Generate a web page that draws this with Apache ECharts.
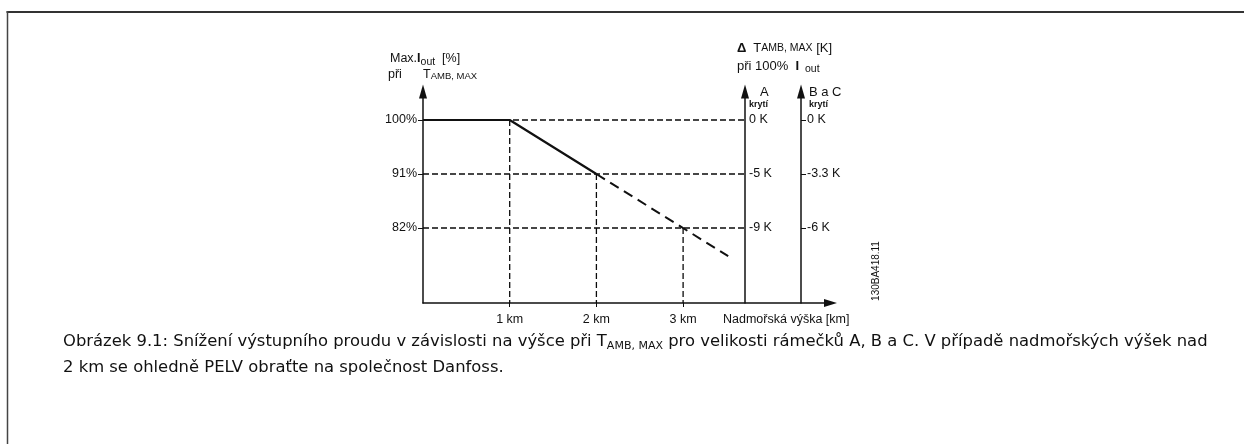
<!DOCTYPE html>
<html>
<head>
<meta charset="utf-8">
<script src="https://cdn.jsdelivr.net/npm/echarts@6/dist/echarts.min.js"></script>
<style>
  html, body { margin: 0; padding: 0; background: #fff; }
  #chart { width: 1244px; height: 444px; }
</style>
</head>
<body>
<div id="chart"></div>
<script>
// Altitude axis (km)
const altitudeTicks = [1, 2, 3];
const altitudeLabels = ['1 km', '2 km', '3 km'];

// Max. output current at T_AMB,MAX (%)
const currentTicks = [82, 91, 100];
const currentLabels = ['82%', '91%', '100%'];

// Ambient temperature derating at 100 % I_out, per enclosure
const deltaEnclosureA = ['-9 K', '-5 K', '0 K'];
const deltaEnclosureBC = ['-6 K', '-3.3 K', '0 K'];

// Derating curve: specified part and extrapolated part
const curveSpecified = [[0, 100], [1, 100], [2, 91]];
const curveExtrapolated = [[2, 91], [3.52, 77.3]];

// Points where the guide lines meet the curve
const guidePoints = [[1, 100], [2, 91], [3, 82]];

// ---- layout ----
const INK = '#111';
const GUIDE = '#0a0a0a';
const AXIS_FONT = "'Liberation Sans', Arial, sans-serif";
const CAPTION_FONT = "'DejaVu Sans', Verdana, sans-serif";
const X_MAX = 4.7, Y_MIN = 69.5, Y_MAX = 104.75;
const GRID = { left: 423, top: 91.5, width: 407.5, height: 211.5 };
const PX_PER_KM = GRID.width / X_MAX;
const ENCL_A_KM = 3.714;   // where the enclosure A scale stands
const ENCL_BC_KM = 4.36;   // where the enclosure B/C scale stands

const pick = (ticks, labels) => v => {
  const i = ticks.findIndex(t => Math.abs(t - v) < 1e-6);
  return i < 0 ? '' : labels[i];
};

const axisLineStyle = { color: INK, width: 1.5 };
const labelStyle = { fontFamily: AXIS_FONT, fontSize: 12.5, color: INK };

function yAxisDef(extra) {
  return Object.assign({
    type: 'value', min: Y_MIN, max: Y_MAX,
    splitLine: { show: false },
    axisLine: { show: true, symbol: ['none', 'triangle'], symbolSize: [8, 14], lineStyle: axisLineStyle }
  }, extra);
}

const guideStyle = { color: GUIDE, width: 1.3, type: [6, 3] };
const guideSeries = [];
guidePoints.forEach(([x, y]) => {
  guideSeries.push({ type: 'line', data: [[0, y], [ENCL_A_KM, y]] });
  guideSeries.push({ type: 'line', data: [[x, y], [x, Y_MIN]] });
});
guideSeries.forEach(s => Object.assign(s, {
  symbol: 'none', silent: true, lineStyle: guideStyle, z: 1
}));

const option = {
  animation: false,
  backgroundColor: '#fff',
  grid: { left: GRID.left, top: GRID.top, width: GRID.width, height: GRID.height, containLabel: false },
  xAxis: {
    type: 'value', min: 0, max: X_MAX,
    splitLine: { show: false },
    axisLine: { show: true, onZero: false, symbol: ['none', 'triangle'], symbolSize: [8, 13], lineStyle: axisLineStyle },
    axisTick: { show: true, length: 4, customValues: altitudeTicks, lineStyle: { color: GUIDE, width: 1 } },
    axisLabel: Object.assign({ customValues: altitudeTicks, formatter: pick(altitudeTicks, altitudeLabels), margin: 10 }, labelStyle)
  },
  yAxis: [
    yAxisDef({
      position: 'left',
      axisTick: { show: true, length: 5, customValues: currentTicks, lineStyle: { color: INK, width: 1 } },
      axisLabel: Object.assign({ customValues: currentTicks, formatter: pick(currentTicks, currentLabels), margin: 6 }, labelStyle)
    }),
    yAxisDef({
      position: 'right',
      offset: -(X_MAX - ENCL_A_KM) * PX_PER_KM,
      axisTick: { show: false },
      axisLabel: Object.assign({ customValues: currentTicks, formatter: pick(currentTicks, deltaEnclosureA), margin: 4 }, labelStyle)
    }),
    yAxisDef({
      position: 'right',
      offset: -(X_MAX - ENCL_BC_KM) * PX_PER_KM,
      axisTick: { show: true, length: 5, customValues: currentTicks, lineStyle: { color: INK, width: 1 } },
      axisLabel: Object.assign({ customValues: currentTicks, formatter: pick(currentTicks, deltaEnclosureBC), margin: 6 }, labelStyle)
    })
  ],
  series: guideSeries.concat([
    { type: 'line', data: curveSpecified, symbol: 'none', silent: true, z: 3,
      lineStyle: { color: INK, width: 2.2 } },
    { type: 'line', data: curveExtrapolated, symbol: 'none', silent: true, z: 3,
      lineStyle: { color: INK, width: 2, type: [10, 6.2] } }
  ]),
  graphic: [
    // page frame
    { type: 'line', shape: { x1: 6.5, y1: 12, x2: 1244, y2: 12 }, style: { stroke: '#333', lineWidth: 2 } },
    { type: 'line', shape: { x1: 7.5, y1: 11, x2: 7.5, y2: 444 }, style: { stroke: '#444', lineWidth: 1.5 } },

    // left scale title
    { type: 'text', x: 390, y: 60, style: {
      text: '{n|Max.}{b|I}{s|out}{n|  [%]}', verticalAlign: 'middle', fill: INK,
      rich: {
        n: { fontFamily: AXIS_FONT, fontSize: 12.5, fill: INK, verticalAlign: 'bottom', padding: [0, 0, 2, 0] },
        b: { fontFamily: AXIS_FONT, fontSize: 12.5, fontWeight: 'bold', fill: INK, verticalAlign: 'bottom', padding: [0, 0, 2, 0] },
        s: { fontFamily: AXIS_FONT, fontSize: 10.5, fill: INK, verticalAlign: 'bottom' }
      } } },
    { type: 'text', x: 388, y: 75, style: {
      text: 'při', fontFamily: AXIS_FONT, fontSize: 12.5, fill: INK, verticalAlign: 'middle' } },
    { type: 'text', x: 423, y: 75, style: {
      text: '{n|T}{c|AMB, MAX}', verticalAlign: 'middle', fill: INK,
      rich: {
        n: { fontFamily: AXIS_FONT, fontSize: 12.5, fill: INK, verticalAlign: 'bottom' },
        c: { fontFamily: AXIS_FONT, fontSize: 9.5, fill: INK, verticalAlign: 'bottom', padding: [0, 0, 0.5, 0] }
      } } },

    // right scale title
    { type: 'text', x: 737, y: 48, style: {
      text: '{d|Δ} {n| T}{c|AMB, MAX}{n| [K]}', verticalAlign: 'middle', fill: INK,
      rich: {
        d: { fontFamily: AXIS_FONT, fontSize: 13, fontWeight: 'bold', fill: INK, verticalAlign: 'bottom' },
        n: { fontFamily: AXIS_FONT, fontSize: 13, fill: INK, verticalAlign: 'bottom' },
        c: { fontFamily: AXIS_FONT, fontSize: 10.5, fill: INK, verticalAlign: 'bottom', padding: [0, 0, 0.5, 0] }
      } } },
    { type: 'text', x: 737, y: 67, style: {
      text: '{n|při 100%  }{b|I}{s|  out}', verticalAlign: 'middle', fill: INK,
      rich: {
        n: { fontFamily: AXIS_FONT, fontSize: 13, fill: INK, verticalAlign: 'bottom', padding: [0, 0, 2, 0] },
        b: { fontFamily: AXIS_FONT, fontSize: 13, fontWeight: 'bold', fill: INK, verticalAlign: 'bottom', padding: [0, 0, 2, 0] },
        s: { fontFamily: AXIS_FONT, fontSize: 10.5, fill: INK, verticalAlign: 'bottom' }
      } } },

    // enclosure labels
    { type: 'text', x: 760, y: 92, style: { text: 'A', fontFamily: AXIS_FONT, fontSize: 13, fill: INK, verticalAlign: 'middle' } },
    { type: 'text', x: 749, y: 105, style: { text: 'krytí', fontFamily: AXIS_FONT, fontSize: 9, fontWeight: 'bold', fill: INK, verticalAlign: 'middle' } },
    { type: 'text', x: 809, y: 92, style: { text: 'B a C', fontFamily: AXIS_FONT, fontSize: 13, fill: INK, verticalAlign: 'middle' } },
    { type: 'text', x: 809, y: 105, style: { text: 'krytí', fontFamily: AXIS_FONT, fontSize: 9, fontWeight: 'bold', fill: INK, verticalAlign: 'middle' } },

    // altitude axis title
    { type: 'text', x: 723, y: 320, style: { text: 'Nadmořská výška [km]', fontFamily: AXIS_FONT, fontSize: 12.5, fill: INK, verticalAlign: 'middle' } },

    // drawing number
    { type: 'text', x: 876, y: 271, rotation: Math.PI / 2, style: {
      text: '130BA418.11', fontFamily: AXIS_FONT, fontSize: 10, fill: INK, align: 'center', verticalAlign: 'middle' } },

    // caption
    { type: 'text', x: 63, y: 343, style: {
      text: '{t|Obrázek 9.1: Snížení výstupního proudu v závislosti na výšce při T}{s|AMB, MAX}{t| pro velikosti rámečků A, B a C. V případě nadmořských výšek nad}',
      verticalAlign: 'middle', fill: INK,
      rich: {
        t: { fontFamily: CAPTION_FONT, fontSize: 16.4, fill: INK, verticalAlign: 'bottom', padding: [0, 0, 2, 0] },
        s: { fontFamily: CAPTION_FONT, fontSize: 11, fill: INK, verticalAlign: 'bottom' }
      } } },
    { type: 'text', x: 63, y: 368, style: {
      text: '2 km se ohledně PELV obraťte na společnost Danfoss.',
      fontFamily: CAPTION_FONT, fontSize: 16.4, fill: INK, verticalAlign: 'middle' } }
  ]
};

const chart = echarts.init(document.getElementById('chart'), null, { renderer: 'canvas' });
chart.setOption(option);
</script>
</body>
</html>
